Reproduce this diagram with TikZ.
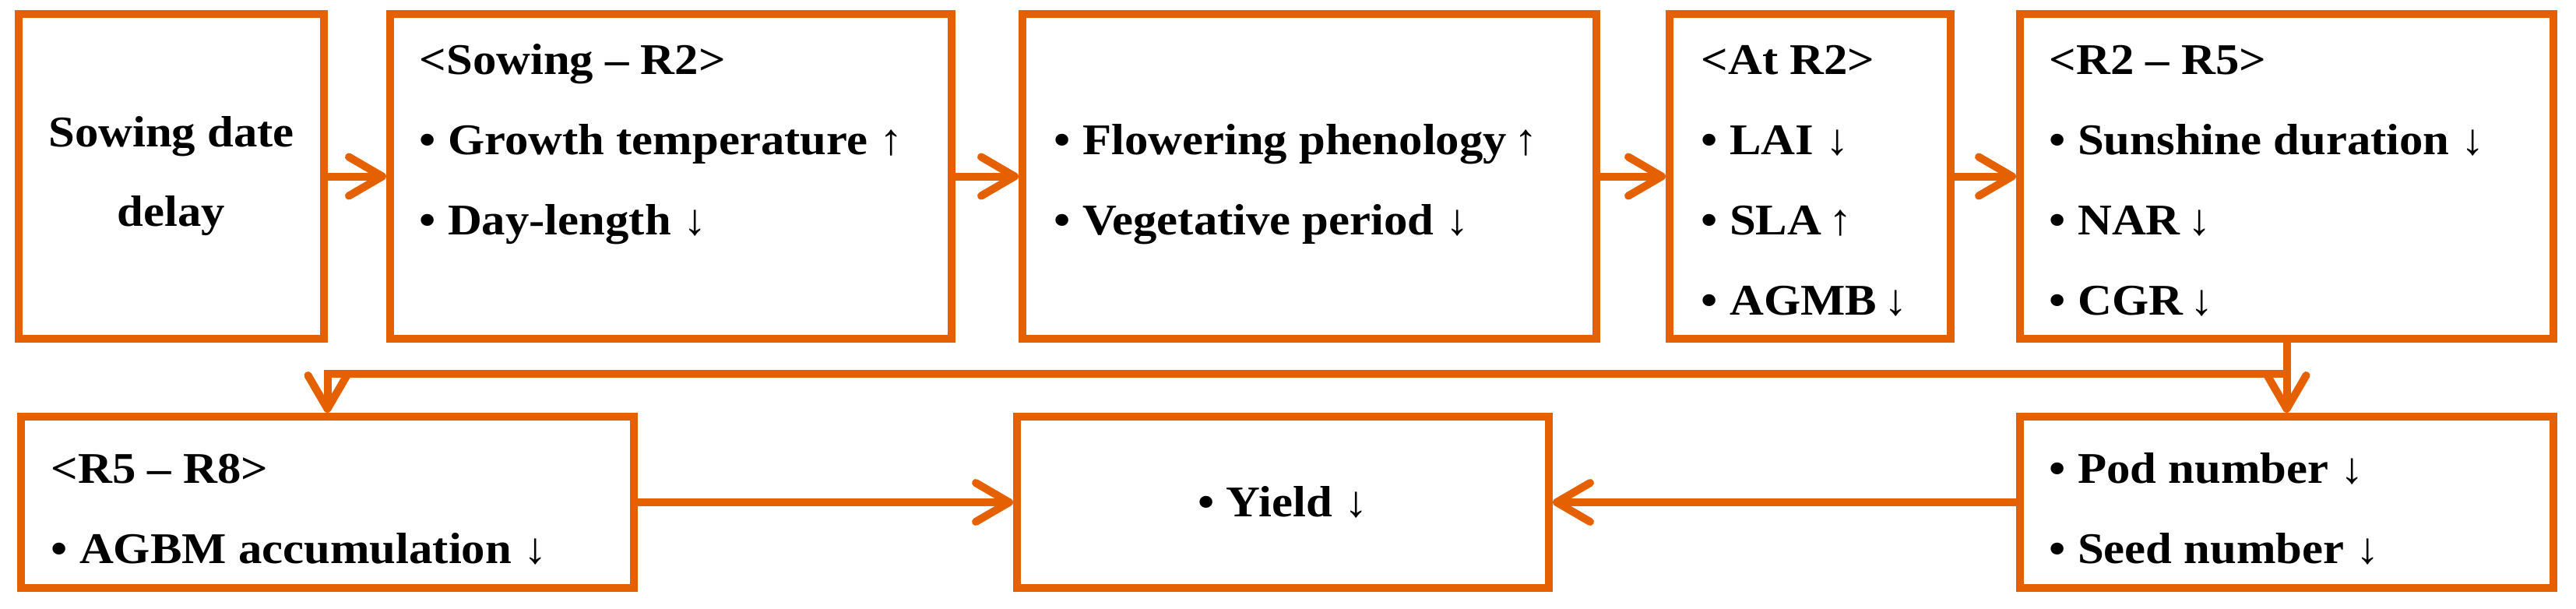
\documentclass[tikz,border=0pt]{standalone}
\usepackage{fontspec}
\setmainfont{Liberation Serif}[FakeStretch=1.08]
\usetikzlibrary{arrows.meta}
\definecolor{orng}{RGB}{228,96,0}

\begin{document}
\begin{tikzpicture}[
        box/.style 2 args={draw=orng, line width=1mm, minimum width=#1, minimum height=#2, inner sep=0pt, align=center},
        entry/.style={anchor=base west, inner sep=0pt},
        arr/.style={draw=orng, line width=1mm, -{Straight Barb[length=4.3mm, width=5mm, round]}},
        font=\fontsize{16}{29}\selectfont\bfseries
    ]
        \useasboundingbox (0,0) rectangle (33.08,7.81);

        \node[box={3.92cm}{4.17cm}] (delay) at (2.20,5.545) {Sowing date\\delay};
        \node[box={7.21cm}{4.17cm}] (sowr2) at (8.615,5.545) {};
        \node[box={7.37cm}{4.17cm}] (pheno) at (16.815,5.545) {};
        \node[box={3.61cm}{4.17cm}] (atr2) at (23.245,5.545) {};
        \node[box={6.85cm}{4.17cm}] (r2r5) at (29.365,5.545) {};

        \node[box={7.87cm}{2.20cm}] (r5r8) at (4.205,1.36) {};
        \node[box={6.83cm}{2.20cm}] (yield) at (16.475,1.36) {• Yield ↓};
        \node[box={6.85cm}{2.20cm}] (sink) at (29.365,1.36) {};

        \node[entry] (sowhead) at ([shift={(0.42,-0.82)}]sowr2.north west) {<Sowing – R2>};
        \node[entry] (temp) at ([shift={(0.42,-1.85)}]sowr2.north west) {• Growth temperature ↑};
        \node[entry] (daylen) at ([shift={(0.42,-2.88)}]sowr2.north west) {• Day-length ↓};

        \node[entry] (flower) at ([shift={(0.45,-1.85)}]pheno.north west) {• Flowering phenology\,↑};
        \node[entry] (veget) at ([shift={(0.45,-2.88)}]pheno.north west) {• Vegetative period ↓};

        \node[entry] (athead) at ([shift={(0.45,-0.82)}]atr2.north west) {<At R2>};
        \node[entry] (lai) at ([shift={(0.45,-1.85)}]atr2.north west) {• LAI ↓};
        \node[entry] (sla) at ([shift={(0.45,-2.88)}]atr2.north west) {• SLA\,↑};
        \node[entry] (agmb) at ([shift={(0.45,-3.91)}]atr2.north west) {• AGMB\,↓};

        \node[entry] (r25head) at ([shift={(0.42,-0.82)}]r2r5.north west) {<R2 – R5>};
        \node[entry] (sun) at ([shift={(0.42,-1.85)}]r2r5.north west) {• Sunshine duration ↓};
        \node[entry] (nar) at ([shift={(0.42,-2.88)}]r2r5.north west) {• NAR\,↓};
        \node[entry] (cgr) at ([shift={(0.42,-3.91)}]r2r5.north west) {• CGR\,↓};

        \node[entry] (r58head) at ([shift={(0.43,-0.90)}]r5r8.north west) {<R5 – R8>};
        \node[entry] (agbm) at ([shift={(0.43,-1.93)}]r5r8.north west) {• AGBM accumulation ↓};

        \node[entry] (pod) at ([shift={(0.42,-0.90)}]sink.north west) {• Pod number ↓};
        \node[entry] (seed) at ([shift={(0.42,-1.93)}]sink.north west) {• Seed number ↓};

        \coordinate (split) at ([yshift=-0.40cm]r2r5.south);

        \draw[arr] (delay.east) -- (sowr2.west);
        \draw[arr] (sowr2.east) -- (pheno.west);
        \draw[arr] (pheno.east) -- (atr2.west);
        \draw[arr] (atr2.east) -- (r2r5.west);
        \draw[arr] (r2r5.south) -- (sink.north);
        \draw[arr] (split) -| (r5r8.north);
        \draw[arr] (r5r8.east) -- (yield.west);
        \draw[arr] (sink.west) -- (yield.east);
    \end{tikzpicture}
\end{document}
